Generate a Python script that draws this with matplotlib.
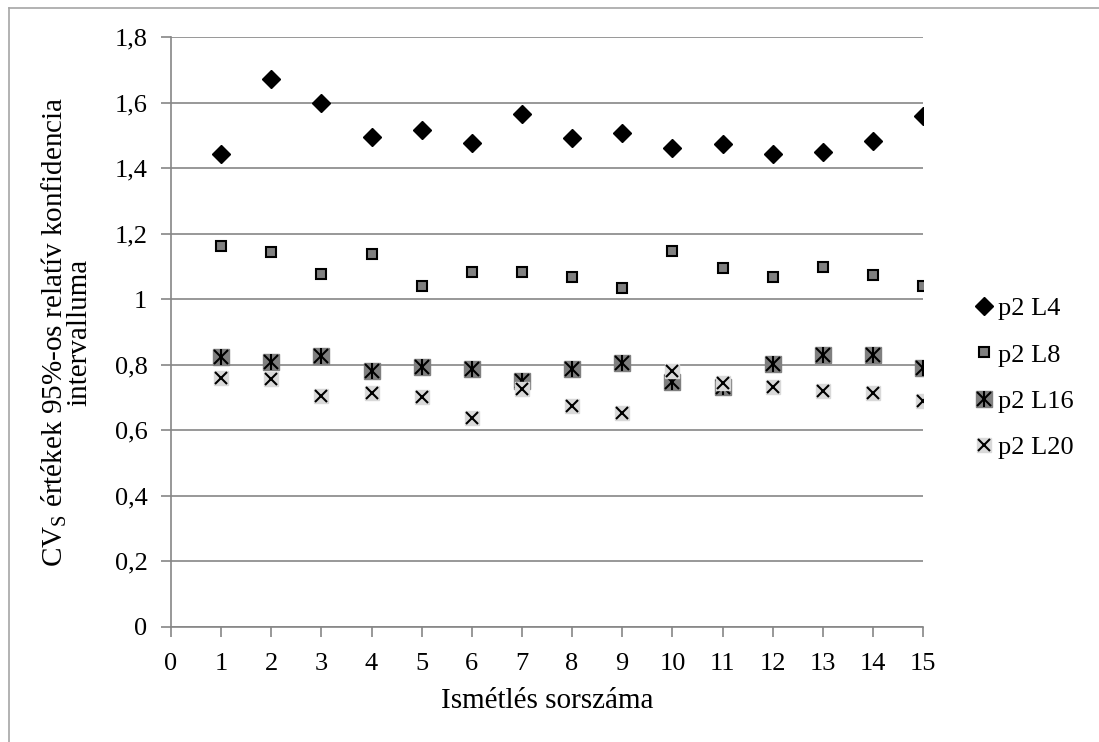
import matplotlib.pyplot as plt
from matplotlib.lines import Line2D
from matplotlib.ticker import FuncFormatter, MultipleLocator

plt.rcParams['font.family'] = ['Liberation Serif', 'DejaVu Serif']

ism = list(range(1, 16))

L4 = [1.443, 1.672, 1.599, 1.494, 1.516, 1.476, 1.564, 1.491,
      1.508, 1.461, 1.475, 1.444, 1.449, 1.483, 1.559]
L8 = [1.164, 1.143, 1.076, 1.137, 1.039, 1.083, 1.082, 1.068,
      1.034, 1.147, 1.096, 1.069, 1.099, 1.075, 1.040]
L16 = [0.825, 0.808, 0.827, 0.782, 0.794, 0.788, 0.751, 0.786,
       0.805, 0.749, 0.731, 0.802, 0.830, 0.830, 0.790]
L20 = [0.759, 0.756, 0.706, 0.713, 0.701, 0.639, 0.726, 0.674,
       0.652, 0.782, 0.746, 0.733, 0.720, 0.713, 0.690]

fig = plt.figure(figsize=(10.99, 7.42), dpi=100)
ax = fig.add_axes([0.1556, 0.155, 0.6843, 0.795])

# keret (csak bal és felső él látszik)
bx, by = 9 / 1099, 1 - 8 / 742
fig.lines.append(Line2D([bx, bx], [0, by], transform=fig.transFigure,
                        color='#a6a6a6', linewidth=1.2))
fig.lines.append(Line2D([bx, 1], [by, by], transform=fig.transFigure,
                        color='#a6a6a6', linewidth=1.2))

h4, = ax.plot(ism, L4, 'D', color='black', markersize=9.5, linestyle='none', zorder=5)
h8, = ax.plot(ism, L8, 's', markerfacecolor='#808080', markeredgecolor='black',
              markeredgewidth=1.5, markersize=7.5, linestyle='none', zorder=4)
h16a, = ax.plot(ism, L16, 's', color='#7f7f7f', markersize=12, linestyle='none', zorder=3)
h16b, = ax.plot(ism, L16, 'x', color='black', markersize=10, markeredgewidth=1.5,
                linestyle='none', zorder=3)
h16c, = ax.plot(ism, L16, '|', color='black', markersize=12, markeredgewidth=1.5,
                linestyle='none', zorder=3)
h20a, = ax.plot(ism, L20, 's', color='#d9d9d9', markersize=10, linestyle='none', zorder=3)
h20b, = ax.plot(ism, L20, 'x', color='black', markersize=9, markeredgewidth=1.5,
                linestyle='none', zorder=3)

ax.set_xlim(0, 15)
ax.set_ylim(0, 1.8)
ax.xaxis.set_major_locator(MultipleLocator(1))
ax.yaxis.set_major_locator(MultipleLocator(0.2))
ax.yaxis.set_major_formatter(FuncFormatter(lambda v, p: ('%g' % round(v, 1)).replace('.', ',')))

ax.grid(axis='y', color='#868686', linewidth=1.2)
ax.set_axisbelow(True)
for s in ['top', 'right']:
    ax.spines[s].set_visible(False)
for s in ['left', 'bottom']:
    ax.spines[s].set_color('#868686')
    ax.spines[s].set_linewidth(1.2)
ax.tick_params(axis='both', colors='#868686', labelcolor='black', labelsize=19,
               length=7, width=1.2, direction='out')
ax.tick_params(axis='y', pad=10)
ax.tick_params(axis='x', pad=12)

ax.set_xlabel('Ismétlés sorszáma', fontsize=21, labelpad=9)
ax.set_ylabel('CV$_\\mathregular{S}$ értékek 95%-os relatív konfidencia\nintervalluma',
              fontsize=21, labelpad=16, linespacing=0.85)

ax.legend([h4, h8, (h16a, h16b, h16c), (h20a, h20b)],
          ['p2 L4', 'p2 L8', 'p2 L16', 'p2 L20'],
          loc='center left', bbox_to_anchor=(973 / 1099, 1 - 378 / 742),
          bbox_transform=fig.transFigure, frameon=False, borderaxespad=0, borderpad=0,
          fontsize=19, handlelength=0.8, handletextpad=0.15, labelspacing=0.87)

plt.savefig('out.png', dpi=100)
